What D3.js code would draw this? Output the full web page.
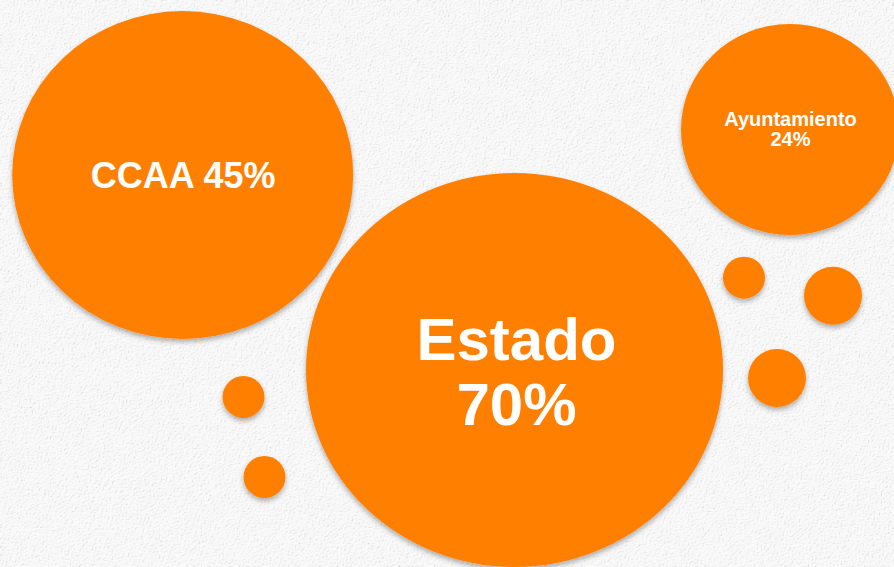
<!DOCTYPE html>
<html lang="es">
<head>
<meta charset="UTF-8">
<title>Estado CCAA Ayuntamiento</title>
<script src="https://cdn.jsdelivr.net/npm/d3@7"></script>
<style>
  html, body { margin: 0; padding: 0; background: #f3f3f3; overflow: hidden; }
  svg { display: block; }
</style>
</head>
<body>
<svg id="chart"></svg>
<script>
// data
var labels = ["CCAA", "Estado", "Ayuntamiento"];
var values = [45, 70, 24];

// layout of the big bubbles (centre, vertical squash, font size)
var bubbleX = [182.7, 514.5, 790];
var bubbleY = [175, 370, 129.5];
var squash = [0.962, 0.945, 0.968];
var fontSize = [36, 60, 20];
var lineGap = [0, 65, 20];

// small decorative dots
var dots = [
  {x: 243.5, y: 397, r: 21},
  {x: 264.5, y: 477, r: 21},
  {x: 744, y: 277.7, r: 21},
  {x: 833, y: 295.7, r: 29},
  {x: 777, y: 378, r: 29}
];

var width = 894, height = 567;
var orange = "#ff7f00";

var svg = d3.select("#chart")
  .attr("width", width)
  .attr("height", height);

var defs = svg.append("defs");

// paper texture
var paper = defs.append("filter")
  .attr("id", "paper")
  .attr("x", 0).attr("y", 0)
  .attr("width", "100%").attr("height", "100%");
paper.append("feTurbulence")
  .attr("type", "fractalNoise")
  .attr("baseFrequency", "0.55 0.75")
  .attr("numOctaves", 3)
  .attr("seed", 4)
  .attr("result", "noise");
paper.append("feDiffuseLighting")
  .attr("in", "noise")
  .attr("lighting-color", "#ffffff")
  .attr("surfaceScale", 1.3)
  .attr("diffuseConstant", 1.12)
  .append("feDistantLight")
  .attr("azimuth", 225)
  .attr("elevation", 62);

// soft shadow under the bubbles
var shadow = defs.append("filter")
  .attr("id", "shadow")
  .attr("x", "-20%").attr("y", "-20%")
  .attr("width", "140%").attr("height", "140%");
shadow.append("feDropShadow")
  .attr("dx", 0)
  .attr("dy", 3)
  .attr("stdDeviation", 2.5)
  .attr("flood-color", "#000")
  .attr("flood-opacity", 0.3);

svg.append("rect")
  .attr("width", width)
  .attr("height", height)
  .attr("fill", "#f3f3f3");
svg.append("rect")
  .attr("width", width)
  .attr("height", height)
  .attr("filter", "url(#paper)")
  .attr("opacity", 0.55);

// value -> radius
var rScale = d3.scaleLinear()
  .domain([24, 45, 70])
  .range([109, 170.5, 208.5]);

var data = labels.map(function(d, i) {
  return {label: d, value: values[i], i: i};
});

svg.append("g")
  .selectAll("circle")
  .data(dots)
  .enter()
  .append("circle")
  .attr("cx", function(d) { return d.x; })
  .attr("cy", function(d) { return d.y; })
  .attr("r", function(d) { return d.r; })
  .attr("fill", orange)
  .attr("filter", "url(#shadow)");

var bubble = svg.append("g")
  .selectAll("g")
  .data(data)
  .enter()
  .append("g")
  .attr("transform", function(d) {
    return "translate(" + bubbleX[d.i] + "," + bubbleY[d.i] + ")";
  });

bubble.append("ellipse")
  .attr("rx", function(d) { return rScale(d.value); })
  .attr("ry", function(d) { return rScale(d.value) * squash[d.i]; })
  .attr("fill", orange)
  .attr("filter", "url(#shadow)");

bubble.each(function(d) {
  var lines = d.label == "CCAA" ? [d.label + " " + d.value + "%"] : [d.label, d.value + "%"];
  var fs = fontSize[d.i];
  var first = d.label == "CCAA" ? 13 : (d.label == "Estado" ? -10 : -3.5);
  var t = d3.select(this).append("text")
    .attr("text-anchor", "middle")
    .attr("fill", "#ffffff")
    .style("font-family", "'Liberation Sans', Arial, Helvetica, sans-serif")
    .style("font-weight", "bold")
    .style("font-size", fs + "px");
  lines.forEach(function(l, k) {
    t.append("tspan")
      .attr("x", d.label == "Estado" ? 2 : 0.5)
      .attr("y", first + k * lineGap[d.i])
      .text(l);
  });
});
</script>
</body>
</html>
